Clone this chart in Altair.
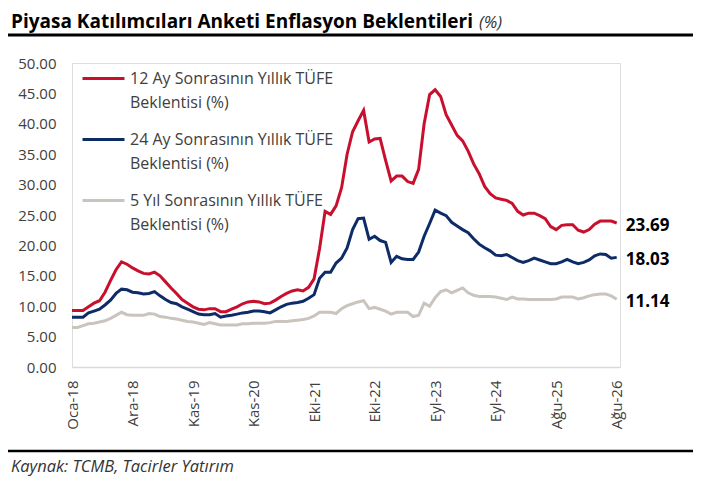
import pandas as pd
import altair as alt

FONT = "Open Sans"

tick_labels = ["Oca-18", "Ara-18", "Kas-19", "Kas-20", "Eki-21",
               "Eki-22", "Eyl-23", "Eyl-24", "Ağu-25", "Ağu-26"]
tick_step = 11

series_names = [
    "12 Ay Sonrasının Yıllık TÜFE|Beklentisi (%)",
    "24 Ay Sonrasının Yıllık TÜFE|Beklentisi (%)",
    "5 Yıl Sonrasının Yıllık TÜFE|Beklentisi (%)",
]
series_colors = ["#C8102E", "#0D2B67", "#C9C4BE"]

# 12 ay sonrası beklenti
exp_12m = [9.3, 9.3, 9.3, 9.9, 10.5, 10.9, 12.3, 14.2, 16.0, 17.3,
           16.9, 16.3, 15.8, 15.4, 15.3, 15.6, 15.0, 14.0, 13.0, 12.1,
           11.1, 10.5, 9.9, 9.5, 9.4, 9.6, 9.6, 9.1, 9.1, 9.5,
           9.9, 10.4, 10.7, 10.8, 10.7, 10.4, 10.5, 11.0, 11.6, 12.1,
           12.5, 12.7, 12.5, 13.1, 14.5, 19.5, 25.6, 25.1, 26.5, 29.5,
           35.0, 38.7, 40.5, 42.2, 37.0, 37.5, 37.6, 34.0, 30.6, 31.4,
           31.4, 30.5, 30.2, 32.5, 40.0, 44.8, 45.6, 44.5, 41.5, 39.8,
           38.1, 37.2, 35.5, 33.4, 31.8, 29.7, 28.5, 27.8, 27.6, 27.4,
           26.9, 25.6, 25.0, 25.3, 25.3, 24.9, 24.4, 23.1, 22.6, 23.3,
           23.4, 23.4, 22.5, 22.2, 22.6, 23.5, 24.0, 24.0, 24.0, 23.69]

# 24 ay sonrası beklenti
exp_24m = [8.2, 8.2, 8.2, 8.9, 9.2, 9.5, 10.2, 11.0, 12.1, 12.8,
           12.7, 12.3, 12.2, 12.0, 12.1, 12.4, 11.7, 11.1, 10.6, 10.4,
           9.9, 9.5, 9.1, 8.7, 8.6, 8.6, 8.8, 8.2, 8.4, 8.5,
           8.7, 8.9, 9.0, 9.2, 9.2, 9.1, 8.9, 9.4, 9.9, 10.3,
           10.5, 10.6, 10.8, 11.3, 11.9, 14.6, 15.6, 15.6, 17.1, 17.9,
           19.6, 22.6, 24.4, 24.5, 21.0, 21.5, 20.8, 20.5, 17.2, 18.2,
           17.8, 17.7, 17.7, 18.9, 21.5, 23.6, 25.8, 25.3, 24.9, 23.8,
           23.2, 22.6, 22.1, 21.1, 20.2, 19.6, 19.1, 18.4, 18.3, 18.5,
           18.0, 17.5, 17.2, 17.5, 17.9, 17.6, 17.3, 17.0, 17.0, 17.3,
           17.7, 17.3, 17.0, 17.2, 17.6, 18.3, 18.6, 18.5, 17.9, 18.03]

# 5 yıl sonrası beklenti
exp_5y = [6.5, 6.5, 6.8, 7.1, 7.2, 7.4, 7.6, 8.0, 8.5, 9.0,
          8.6, 8.5, 8.5, 8.5, 8.8, 8.7, 8.3, 8.2, 8.0, 7.9,
          7.7, 7.5, 7.4, 7.2, 7.0, 7.3, 7.1, 6.9, 6.9, 6.9,
          6.9, 7.1, 7.1, 7.2, 7.2, 7.2, 7.3, 7.5, 7.5, 7.5,
          7.6, 7.7, 7.8, 8.0, 8.4, 9.0, 9.0, 9.0, 8.8, 9.6,
          10.1, 10.4, 10.7, 10.9, 9.6, 9.8, 9.5, 9.2, 8.7, 9.0,
          9.0, 9.0, 8.3, 8.5, 10.5, 10.0, 11.4, 12.4, 12.7, 12.2,
          12.6, 13.0, 12.2, 11.8, 11.6, 11.6, 11.6, 11.5, 11.3, 11.1,
          11.5, 11.2, 11.2, 11.1, 11.1, 11.1, 11.1, 11.1, 11.2, 11.5,
          11.5, 11.5, 11.2, 11.4, 11.7, 11.9, 12.0, 12.0, 11.7, 11.14]

title_text = "Piyasa Katılımcıları Anketi Enflasyon Beklentileri"
title_unit = "(%)"
source_text = "Kaynak: TCMB, Tacirler Yatırım"

W, H = 548, 304

rows = []
for name, vals in zip(series_names, [exp_12m, exp_24m, exp_5y]):
    for i, v in enumerate(vals):
        rows.append({"idx": i, "seri": name, "deger": v})
df = pd.DataFrame(rows)
last = df[df["idx"] == df["idx"].max()]

tick_vals = [i * tick_step for i in range(len(tick_labels))]
label_js = "[" + ",".join(f"'{t}'" for t in tick_labels) + "]"

x_enc = alt.X("idx:Q", scale=alt.Scale(domain=[0, 99.6], nice=False, zero=False),
              axis=alt.Axis(values=tick_vals, labelExpr=f"{label_js}[round(datum.value / {tick_step})]",
                            title=None, grid=False, ticks=False, domainColor="#D9D9D9", domainWidth=1.5,
                            labelAngle=270, labelPadding=13, labelFontSize=15, labelFont=FONT,
                            labelColor="#404040", labelOverlap=False))
y_enc = alt.Y("deger:Q", scale=alt.Scale(domain=[0, 50], nice=False),
              axis=alt.Axis(values=list(range(0, 51, 5)), format=".2f", title=None, grid=False,
                            ticks=False, domain=False, labelPadding=16, labelFontSize=15,
                            labelFont=FONT, labelColor="#404040", labelOverlap=False))
color_enc = alt.Color("seri:N", scale=alt.Scale(domain=series_names, range=series_colors),
                      legend=alt.Legend(title=None, orient="none", legendX=9, legendY=-7,
                                        direction="vertical", symbolType="stroke", symbolSize=1764,
                                        symbolStrokeWidth=3,
                                        labelExpr="split(datum.label, '|')",
                                        labelBaseline="middle", labelFont=FONT, labelFontSize=16,
                                        labelColor="#404040", labelOffset=4, labelLimit=0,
                                        rowPadding=6, padding=0))

lines = alt.Chart(df).mark_line(strokeWidth=3).encode(x=x_enc, y=y_enc, color=color_enc)

end_labels = alt.Chart(last).mark_text(align="left", dx=9, dy=3, fontSize=17, fontWeight="bold",
                                       font=FONT, color="black").encode(
    x=x_enc, y=y_enc, text=alt.Text("deger:Q", format=".2f"))

title_bold = alt.Chart(pd.DataFrame({"t": [title_text]})).mark_text(
    align="left", baseline="alphabetic", fontSize=19, fontWeight="bold", font=FONT, color="black"
).encode(x=alt.value(-61), y=alt.value(-35.5), text="t:N")
title_pct = alt.Chart(pd.DataFrame({"t": [title_unit]})).mark_text(
    align="left", baseline="alphabetic", fontSize=17, fontStyle="italic", font=FONT, color="#333333"
).encode(x=alt.value(407), y=alt.value(-35.5), text="t:N")
title_rule = alt.Chart(pd.DataFrame({"t": [0]})).mark_rule(color="black", strokeWidth=3).encode(
    x=alt.value(-64), x2=alt.value(W + 73), y=alt.value(-28))
foot_rule = alt.Chart(pd.DataFrame({"t": [0]})).mark_rule(color="black", strokeWidth=2.5).encode(
    x=alt.value(-64), x2=alt.value(W + 73), y=alt.value(388))
footer = alt.Chart(pd.DataFrame({"t": [source_text]})).mark_text(
    align="left", baseline="alphabetic", fontSize=16.5, fontStyle="italic", font=FONT, color="#333333"
).encode(x=alt.value(-61), y=alt.value(409), text="t:N")

chart = alt.layer(lines, end_labels, title_bold, title_pct, title_rule, foot_rule, footer).properties(
    width=W, height=H, autosize="none",
    padding={"left": 64, "top": 55, "right": 73, "bottom": 111},
).configure_view(stroke=None).configure(style={"guide-label": {"lineHeight": 24}})

chart.save("out.html", embed_options={"renderer": "svg", "actions": False})
